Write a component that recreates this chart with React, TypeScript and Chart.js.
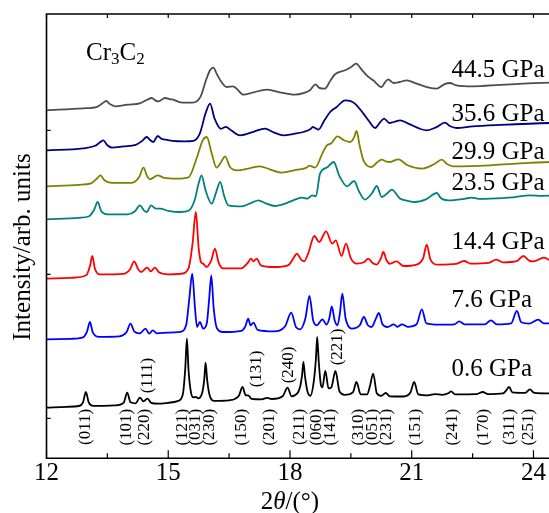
import React, { useEffect, useRef } from "react";
import { Chart, registerables } from "chart.js";
Chart.register(...registerables);

const X_MIN = 12;
const X_MAX = 25;
const xTickValues = [12, 13.5, 15, 16.5, 18, 19.5, 21, 22.5, 24];
const yTickValues = [40, 184, 328];

const pressureLabels = ["0.6 GPa", "7.6 GPa", "14.4 GPa", "23.5 GPa", "29.9 GPa", "35.6 GPa", "44.5 GPa"];
const pressureLabelLevels = [82, 151, 209, 268, 299, 337, 381];
const seriesColors = ["#000000", "#0000ff", "#ff0000", "#008080", "#808000", "#000080", "#4d4d4d"];

// 0.6 GPa
const p06x = [12.0, 12.5, 12.8, 12.9, 12.97, 13.04, 13.15, 13.7, 13.9, 13.99, 14.07, 14.2, 14.3, 14.39, 14.49, 14.58, 14.75, 15.0, 15.25, 15.36, 15.42, 15.46, 15.5, 15.56, 15.62, 15.68, 15.74, 15.84, 15.89, 15.92, 15.96, 16.02, 16.12, 16.5, 16.74, 16.83, 16.91, 16.97, 17.05, 17.3, 17.43, 17.55, 17.82, 17.94, 18.04, 18.12, 18.24, 18.3, 18.33, 18.37, 18.43, 18.5, 18.59, 18.64, 18.67, 18.71, 18.76, 18.8, 18.87, 18.95, 19.02, 19.12, 19.22, 19.35, 19.55, 19.64, 19.74, 19.9, 19.97, 20.05, 20.14, 20.25, 20.36, 20.46, 20.8, 20.97, 21.06, 21.16, 21.4, 21.57, 21.75, 21.9, 21.97, 22.07, 22.6, 22.75, 22.88, 23.25, 23.33, 23.4, 23.48, 23.8, 23.91, 24.02, 24.4, 25.0];
const p06y = [50.7, 51.5, 52.3, 56, 66.3, 56, 52.5, 53, 55.5, 65.7, 56, 55, 60.7, 57, 59.7, 55.5, 54.7, 55.5, 57.5, 64, 90, 119.7, 88, 66, 61, 61.3, 60, 66, 80, 95.7, 78, 63, 57.5, 58, 62.5, 71.3, 63, 63, 59.5, 59, 60.5, 59.3, 62, 70.7, 62, 63, 70, 84, 96.3, 82, 67, 62.5, 78, 100, 121.3, 96, 74, 71, 87.3, 70, 71, 87.3, 67, 63.5, 66, 76.3, 64, 64, 72, 84.7, 65, 62.5, 65.3, 62, 61.8, 66, 76.3, 64, 63, 64.2, 63.5, 65, 67, 64, 64.2, 66.3, 64.2, 65, 68, 71.3, 66, 65.5, 69, 65.5, 65, 65.5];

// 7.6 GPa
const p76x = [12.0, 12.6, 12.9, 13.0, 13.07, 13.14, 13.3, 13.8, 13.97, 14.07, 14.16, 14.3, 14.44, 14.53, 14.62, 14.72, 15.0, 15.3, 15.44, 15.52, 15.59, 15.66, 15.71, 15.78, 15.86, 15.95, 16.01, 16.06, 16.12, 16.2, 16.35, 16.8, 16.9, 16.97, 17.03, 17.1, 17.2, 17.6, 17.88, 18.03, 18.15, 18.25, 18.38, 18.48, 18.57, 18.66, 18.8, 18.9, 18.97, 19.03, 19.1, 19.17, 19.23, 19.29, 19.37, 19.52, 19.72, 19.82, 19.92, 20.01, 20.12, 20.19, 20.28, 20.4, 20.56, 20.65, 20.76, 20.9, 21.12, 21.25, 21.36, 21.7, 22.05, 22.17, 22.3, 22.8, 22.95, 23.1, 23.45, 23.59, 23.7, 23.9, 24.12, 24.25, 25.0];
const p76y = [119, 119.5, 121, 127, 136.3, 126, 121.5, 122, 126, 134.7, 127, 125, 129.7, 124.7, 128, 125, 125.7, 126.5, 133, 160, 184.7, 150, 131.3, 136.3, 129.7, 135, 160, 183, 150, 130, 126.3, 127.5, 132, 139.7, 133, 135.7, 128.5, 127, 132, 145.7, 131, 129, 140, 162.3, 138, 133, 139, 133.7, 140, 152, 138, 133, 145, 164.7, 140, 129.7, 133, 141.3, 133, 131.3, 140, 145.3, 134, 131.3, 134, 131.5, 134, 131.5, 134, 149, 135, 133.7, 134, 137, 134, 134, 138, 134, 135, 147.3, 136, 134.7, 138.7, 135, 135];

// 14.4 GPa
const p144x = [12.0, 12.6, 12.98, 13.07, 13.13, 13.19, 13.3, 13.9, 14.06, 14.16, 14.26, 14.33, 14.48, 14.57, 14.67, 14.77, 15.0, 15.3, 15.5, 15.6, 15.68, 15.75, 15.81, 15.86, 15.94, 16.06, 16.15, 16.24, 16.35, 16.8, 16.95, 17.04, 17.1, 17.18, 17.28, 17.6, 17.95, 18.1, 18.17, 18.27, 18.35, 18.45, 18.6, 18.72, 18.89, 19.04, 19.13, 19.27, 19.38, 19.5, 19.64, 19.82, 19.93, 20.04, 20.14, 20.24, 20.3, 20.38, 20.46, 20.63, 20.79, 21.1, 21.28, 21.37, 21.46, 21.65, 22.1, 22.29, 22.45, 22.9, 23.08, 23.25, 23.6, 23.75, 23.9, 24.0, 24.26, 24.4, 25.0];
const p144y = [179.7, 180.5, 183, 192, 202.3, 190, 184, 184.5, 189, 197, 189, 186.3, 190.7, 187, 190.7, 186, 184, 184.5, 190, 215, 246.3, 210, 196, 194.7, 191.3, 198, 209.7, 196, 190, 190, 195, 199.7, 197, 199.7, 193, 191.3, 193, 201, 204.7, 199, 197, 205, 222.3, 216.3, 227, 214.7, 218, 202.3, 214.7, 200, 194.7, 196, 199.7, 195, 193.7, 200, 206.3, 198, 194.5, 197, 192.3, 193.5, 200, 213.7, 199, 193.7, 194.5, 197.3, 194.7, 195.5, 198.7, 196, 197.5, 202.3, 197.5, 197, 200.7, 198.5, 198];

// 23.5 GPa
const p235x = [12.0, 12.8, 13.05, 13.18, 13.26, 13.35, 13.5, 14.0, 14.18, 14.3, 14.4, 14.47, 14.58, 14.68, 14.8, 15.0, 15.3, 15.5, 15.65, 15.75, 15.82, 15.92, 16.07, 16.18, 16.28, 16.38, 16.48, 16.8, 17.05, 17.22, 17.4, 17.63, 17.9, 18.08, 18.29, 18.43, 18.55, 18.64, 18.74, 18.91, 19.08, 19.21, 19.41, 19.58, 19.7, 19.85, 20.02, 20.14, 20.26, 20.4, 20.51, 20.71, 20.9, 21.08, 21.35, 21.62, 21.72, 21.9, 22.3, 22.48, 22.65, 22.93, 23.5, 23.91, 24.2, 25.0];
const p235y = [239, 240.5, 242, 249, 256.3, 247, 244, 244, 247, 253, 248, 246.3, 253, 250, 249.7, 247.5, 246.3, 247.5, 258, 275, 283, 268, 254.7, 266, 276.3, 262, 253, 252, 255.5, 258, 255, 252.3, 255, 258, 260.7, 259.7, 263, 262, 284.7, 290.7, 296.3, 283, 272, 277.3, 267, 258.7, 265, 272.3, 261.3, 265, 268.7, 259.7, 257.5, 256.3, 259, 265.3, 260, 258, 259.5, 260.7, 259.5, 259.7, 261, 263, 262.5, 263.5];

// 29.9 GPa
const p299x = [12.0, 12.8, 13.1, 13.25, 13.33, 13.43, 13.6, 14.1, 14.28, 14.39, 14.48, 14.55, 14.74, 14.9, 15.2, 15.5, 15.7, 15.85, 15.95, 16.07, 16.19, 16.3, 16.4, 16.52, 16.7, 17.0, 17.26, 17.5, 17.8, 18.1, 18.41, 18.48, 18.62, 18.8, 18.91, 19.01, 19.17, 19.33, 19.48, 19.58, 19.64, 19.72, 19.81, 20.01, 20.15, 20.26, 20.36, 20.46, 20.67, 20.9, 21.25, 21.55, 21.74, 21.88, 22.02, 22.93, 23.5, 24.4, 25.0];
const p299y = [272, 273.5, 275, 280, 283, 278, 275.5, 275.5, 281, 290.7, 282, 279, 283, 280.5, 279.7, 281, 300, 318, 321.3, 305, 290.7, 296, 302, 291.3, 288, 290, 292, 289, 285.7, 288, 290.7, 292.7, 290.7, 305, 313, 314.7, 322, 318, 316.3, 321, 327.3, 312, 298, 291.3, 296, 298.7, 297, 296.3, 299, 293, 289.7, 294, 298.7, 294, 292, 293, 294.5, 296.3, 296.5];

// 35.6 GPa
const p356x = [12.0, 12.9, 13.2, 13.32, 13.4, 13.5, 13.61, 13.9, 14.2, 14.36, 14.47, 14.56, 14.63, 14.74, 14.83, 14.92, 15.1, 15.4, 15.62, 15.78, 15.92, 16.03, 16.14, 16.3, 16.42, 16.55, 16.77, 17.1, 17.38, 17.6, 17.84, 18.1, 18.33, 18.5, 18.56, 18.63, 18.7, 18.85, 18.99, 19.15, 19.36, 19.48, 19.6, 19.81, 19.95, 20.1, 20.22, 20.32, 20.45, 20.55, 20.72, 20.9, 21.37, 21.6, 21.82, 21.95, 22.11, 22.5, 23.2, 24.4, 25.0];
const p356y = [308, 310, 312.5, 316, 318, 313, 310.7, 312, 313.5, 317.5, 321.3, 318, 316.3, 322.3, 319.5, 318.7, 317.5, 317, 317.5, 325, 345, 354.7, 340, 329.5, 331.5, 328, 323, 326.5, 329.7, 326, 323, 324.5, 326.3, 329, 331.3, 330, 328.7, 338, 346.3, 351.3, 358, 357.5, 354.7, 344.7, 337, 330.3, 336, 339.7, 335.3, 336.3, 338, 335, 328, 331, 335.7, 332, 330.3, 332, 333.5, 335.3, 335.5];

// 44.5 GPa
const p445x = [12.0, 12.9, 13.25, 13.38, 13.47, 13.57, 13.69, 14.0, 14.3, 14.48, 14.59, 14.7, 14.76, 14.92, 15.05, 15.12, 15.3, 15.6, 15.8, 15.93, 16.03, 16.11, 16.2, 16.3, 16.44, 16.6, 16.7, 16.85, 17.1, 17.43, 17.7, 18.12, 18.35, 18.49, 18.63, 18.72, 18.86, 19.0, 19.11, 19.36, 19.5, 19.63, 19.76, 19.89, 20.05, 20.26, 20.34, 20.42, 20.55, 20.7, 20.88, 21.1, 21.4, 21.62, 21.8, 21.94, 22.1, 22.52, 23.2, 24.4, 25.0];
const p445y = [348, 350, 351.5, 355, 357.3, 354, 352, 353.7, 355, 358.5, 360.3, 357.5, 357, 360.3, 359, 358.7, 356, 355.7, 362, 378, 388, 390.7, 384, 377, 371.3, 372, 369, 363.7, 366, 368.7, 366.5, 363.7, 365.5, 368, 374, 370.5, 369.7, 378, 384, 388, 391, 394.7, 389, 383, 378, 371.3, 376, 379, 375.3, 376.3, 378, 375, 371, 369.7, 374, 375.3, 373, 372, 373.5, 375.7, 376];

const seriesX = [p06x, p76x, p144x, p235x, p299x, p356x, p445x];
const seriesY = [p06y, p76y, p144y, p235y, p299y, p356y, p445y];

// Miller indices labels (2θ position)
const hklBelow = ["(011)", "(101)", "(220)", "(121)", "(031)", "(230)", "(150)", "(201)", "(211)", "(060)", "(141)", "(310)", "(051)", "(231)", "(151)", "(241)", "(170)", "(311)", "(251)"];
const hklBelowPos = [12.97, 13.98, 14.41, 15.34, 15.68, 16.01, 16.81, 17.5, 18.23, 18.66, 19.01, 19.7, 20.04, 20.39, 21.1, 22.0, 22.77, 23.42, 23.88];
const hklAbove = ["(111)", "(131)", "(240)", "(221)"];
const hklAbovePos = [14.48, 17.17, 17.96, 19.16];
const hklAboveLevel = [65, 71, 75, 93];
const hklBelowLevel = 49.5;

const SERIF = "'Liberation Serif', 'Times New Roman', serif";

const decorPlugin = {
  id: "decor",
  afterDraw(chart: any) {
    const { ctx, chartArea: a } = chart;
    const xs = chart.scales.x;
    const ys = chart.scales.y;
    ctx.save();
    ctx.strokeStyle = "#000";
    ctx.lineWidth = 1.6;
    ctx.beginPath();
    ctx.moveTo(a.right + 5, a.top);
    ctx.lineTo(a.left, a.top);
    ctx.lineTo(a.left, a.bottom);
    ctx.lineTo(a.right + 5, a.bottom);
    ctx.stroke();

    ctx.lineWidth = 1.2;
    ctx.beginPath();
    xTickValues.forEach((v) => {
      const px = xs.getPixelForValue(v);
      const major = v % 3 === 0;
      ctx.moveTo(px, a.bottom);
      ctx.lineTo(px, a.bottom - (major ? 8 : 5));
      ctx.moveTo(px, a.top);
      ctx.lineTo(px, a.top + 4);
    });
    yTickValues.forEach((v) => {
      const py = ys.getPixelForValue(v);
      ctx.moveTo(a.left, py);
      ctx.lineTo(a.left + 4, py);
    });
    ctx.stroke();

    ctx.fillStyle = "#000";
    // pressure labels
    ctx.font = `25px ${SERIF}`;
    ctx.textAlign = "left";
    ctx.textBaseline = "alphabetic";
    pressureLabels.forEach((t, i) => {
      ctx.fillText(t, xs.getPixelForValue(21.98), ys.getPixelForValue(pressureLabelLevels[i]));
    });

    // Cr3C2
    let cx = 86;
    const cy = 60;
    const parts: [string, boolean][] = [["Cr", false], ["3", true], ["C", false], ["2", true]];
    parts.forEach(([t, sub]) => {
      ctx.font = sub ? `17px ${SERIF}` : `25px ${SERIF}`;
      ctx.fillText(t, cx, sub ? cy + 4 : cy);
      cx += ctx.measureText(t).width;
    });

    // x title 2θ/(°)
    const tParts: [string, string][] = [["2", "normal"], ["θ", "italic"], ["/(°)", "normal"]];
    let total = 0;
    tParts.forEach(([t, st]) => {
      ctx.font = `${st} 25px ${SERIF}`;
      total += ctx.measureText(t).width;
    });
    let tx = xs.getPixelForValue(18) - total / 2;
    tParts.forEach(([t, st]) => {
      ctx.font = `${st} 25px ${SERIF}`;
      ctx.fillText(t, tx, 509);
      tx += ctx.measureText(t).width;
    });

    // y title
    ctx.save();
    ctx.translate(30, 247);
    ctx.rotate(-Math.PI / 2);
    ctx.font = `25px ${SERIF}`;
    ctx.textAlign = "center";
    ctx.fillText("Intensity/arb. units", 0, 0);
    ctx.restore();

    // hkl labels
    ctx.font = `17px ${SERIF}`;
    ctx.textBaseline = "middle";
    hklBelow.forEach((t, i) => {
      ctx.save();
      ctx.translate(xs.getPixelForValue(hklBelowPos[i]), ys.getPixelForValue(hklBelowLevel));
      ctx.rotate(-Math.PI / 2);
      ctx.textAlign = "right";
      ctx.fillText(t, 0, 0);
      ctx.restore();
    });
    hklAbove.forEach((t, i) => {
      ctx.save();
      ctx.translate(xs.getPixelForValue(hklAbovePos[i]), ys.getPixelForValue(hklAboveLevel[i]));
      ctx.rotate(-Math.PI / 2);
      ctx.textAlign = "left";
      ctx.fillText(t, 0, 0);
      ctx.restore();
    });
    ctx.restore();
  },
};

const CANVAS_W = 600;
const CANVAS_H = 513;

export default function App() {
  const ref = useRef<HTMLCanvasElement | null>(null);
  useEffect(() => {
    if (!ref.current) return;
    const datasets = seriesX.map((xs, i) => ({
      label: pressureLabels[i],
      data: xs.map((x, j) => ({ x, y: seriesY[i][j] })),
      borderColor: seriesColors[i],
      backgroundColor: seriesColors[i],
      borderWidth: 1.8,
      pointRadius: 0,
      cubicInterpolationMode: "monotone" as const,
      fill: false,
    }));
    const chart = new Chart(ref.current, {
      type: "line",
      data: { datasets },
      options: {
        animation: false,
        responsive: false,
        devicePixelRatio: 1,
        layout: { padding: { top: 14, left: 0, right: CANVAS_W - 574.04, bottom: 0 } },
        plugins: { legend: { display: false }, tooltip: { enabled: false } },
        scales: {
          x: {
            type: "linear",
            min: X_MIN,
            max: X_MAX,
            grid: { display: false, drawTicks: false },
            border: { display: false },
            afterBuildTicks: (s: any) => {
              s.ticks = xTickValues.map((v) => ({ value: v }));
            },
            afterFit: (s: any) => {
              s.height = 54.7;
            },
            ticks: {
              autoSkip: false,
              maxRotation: 0,
              padding: 0,
              color: "#000",
              font: { family: SERIF, size: 25 },
              callback: (v: any) => (Number(v) % 3 === 0 ? String(v) : ""),
            },
          },
          y: {
            type: "linear",
            min: 0,
            max: 444.3,
            grid: { display: false, drawTicks: false },
            border: { display: false },
            afterBuildTicks: (s: any) => {
              s.ticks = yTickValues.map((v) => ({ value: v }));
            },
            afterFit: (s: any) => {
              s.width = 46.5;
            },
            ticks: { display: false },
          },
        },
      },
      plugins: [decorPlugin],
    });
    return () => chart.destroy();
  }, []);

  return (
    <div style={{ position: "fixed", left: 0, top: 0, width: 549, height: 513, overflow: "hidden", background: "#fff" }}>
      <canvas ref={ref} width={CANVAS_W} height={CANVAS_H} style={{ width: CANVAS_W, height: CANVAS_H, display: "block" }} />
    </div>
  );
}
